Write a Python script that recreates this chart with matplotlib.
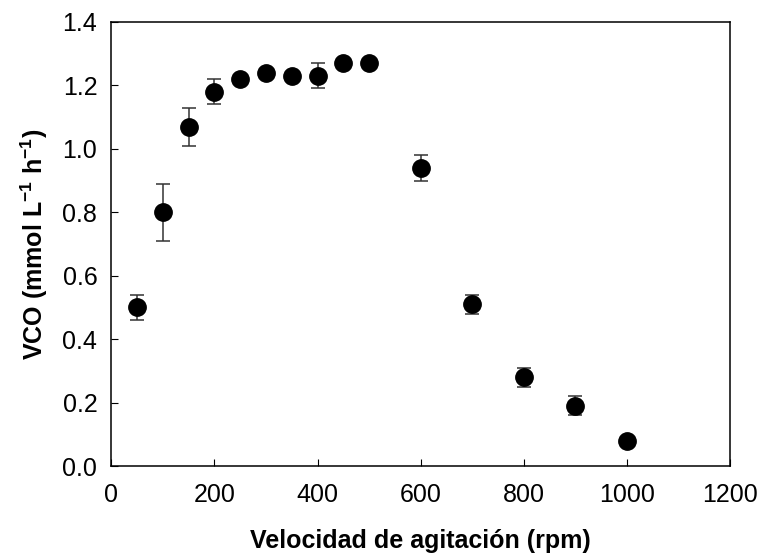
import numpy as np
import matplotlib.pyplot as plt

plt.rcParams['font.family'] = ['Liberation Sans', 'DejaVu Sans']
plt.rcParams['mathtext.fontset'] = 'custom'
plt.rcParams['mathtext.rm'] = 'Liberation Sans'
plt.rcParams['mathtext.bf'] = 'Liberation Sans:bold'

rpm = [50, 100, 150, 200, 250, 300, 350, 400, 450, 500, 600, 700, 800, 900, 1000]
vco = [0.50, 0.80, 1.07, 1.18, 1.22, 1.24, 1.23, 1.23, 1.27, 1.27, 0.94, 0.51, 0.28, 0.19, 0.08]
err = [0.04, 0.09, 0.06, 0.04, 0.01, 0.01, 0.01, 0.04, 0.01, 0.01, 0.04, 0.03, 0.03, 0.03, 0.01]

fig = plt.figure(figsize=(7.62, 5.59), dpi=100)
ax = fig.add_axes([0.146, 0.166, 0.812, 0.795])

ax.errorbar(rpm, vco, yerr=err, fmt='o', color='black', markersize=12.5,
            ecolor='#333333', elinewidth=1.1, capsize=5, capthick=1.1)

ax.set_xlim(0, 1200)
ax.set_ylim(0, 1.4)
ax.set_xticks(np.arange(0, 1201, 200))
ax.set_yticks(np.arange(0, 1.41, 0.2))
ax.set_yticklabels(['%.1f' % v for v in np.arange(0, 1.41, 0.2)])
ax.tick_params(direction='in', length=5, labelsize=18)
ax.tick_params(axis='x', pad=12)
ax.tick_params(axis='y', pad=10)
for s in ax.spines.values():
    s.set_linewidth(1.1)

ax.set_xlabel('Velocidad de agitación (rpm)', fontsize=18, fontweight='bold', labelpad=16)
ax.set_ylabel(r'VCO (mmol L$^{\mathbf{-1}}$ h$^{\mathbf{-1}}$)', fontsize=18,
              fontweight='bold', labelpad=9)

fig.savefig('out.png', dpi=100)
